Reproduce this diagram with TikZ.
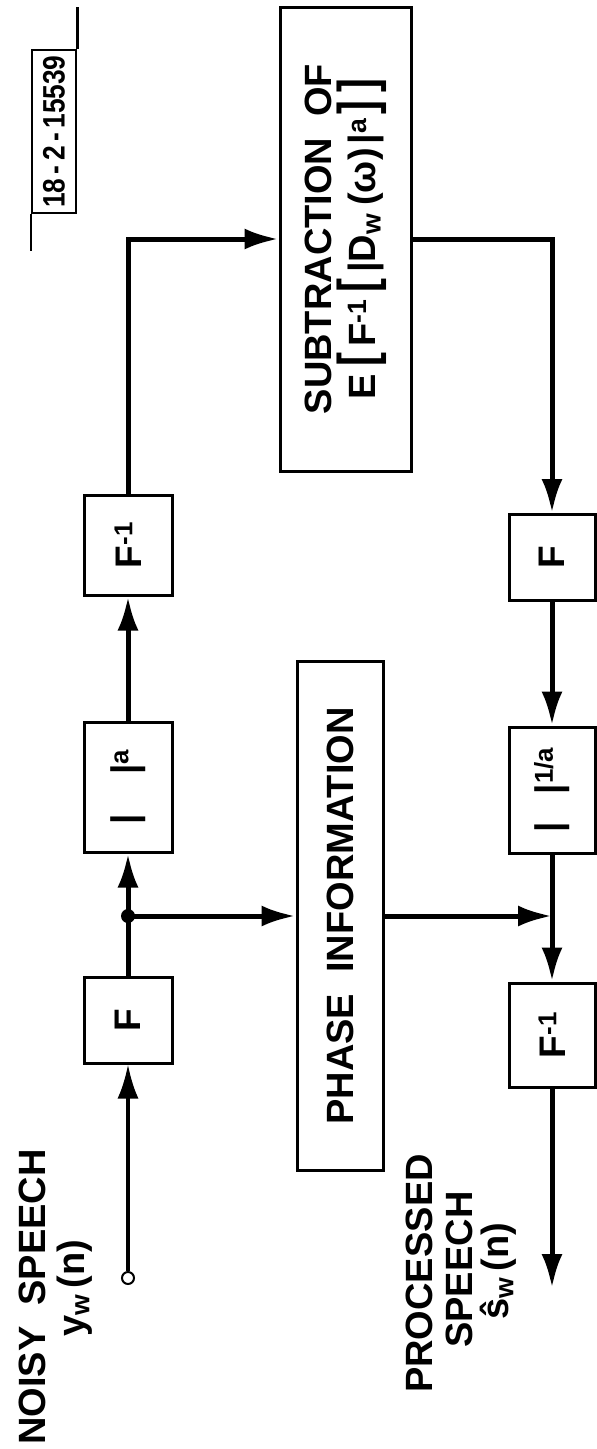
\documentclass[tikz,border=0pt]{standalone}
\usepackage{fontspec}
\setmainfont{Liberation Sans}
\usepackage{graphicx}
\usetikzlibrary{arrows.meta}
\usetikzlibrary{positioning,calc}

\newcommand{\labfont}{\fontsize{38}{46}\selectfont\bfseries}
\newcommand{\boxfont}{\fontsize{37}{40}\selectfont\bfseries}
\newcommand{\tagfont}{\fontsize{31}{34}\selectfont\bfseries}
\newcommand{\brk}[1]{\scalebox{1.1}[1.4]{#1}}

\tikzset{
  blk/.style={draw, line width=3pt, rotate=90, inner sep=0pt, font=\boxfont},
  wire/.style={line width=5pt},
  sig/.style={wire, -{Latex[length=34pt,width=21pt]}},
  lbl/.style={rotate=90, inner sep=0pt, font=\labfont, anchor=base west},
}

\begin{document}
\begin{tikzpicture}[x=1pt, y=-1pt]
    \useasboundingbox (0,0) rectangle (597,1449);

    % Input branch
    \node[circle, draw, line width=2pt, minimum size=12pt, inner sep=0pt] (src) at (128,1278) {};
    \node[blk, minimum width=86pt, minimum height=88pt] (fL) at (128,1020) {F};
    \node[blk, minimum width=130pt, minimum height=88pt] (absa) at (128,787) {|\hspace{40pt}|\textsuperscript{a}};
    \node[blk, minimum width=100pt, minimum height=88pt] (finvL) at (128,545) {F\textsuperscript{-1}};

    % Spectral subtraction
    \node[blk, minimum width=464pt, minimum height=131pt, align=center, font=\labfont] (sub) at (345.5,239)
        {SUBTRACTION\ \ OF\\[-2pt]
         E\hspace{8pt}\brk{[}\hspace{6pt}F\textsuperscript{-1}\hspace{6pt}\brk{[}\hspace{6pt}|D\textsubscript{w}\hspace{8pt}(ω)\hspace{4pt}|\textsuperscript{a}\hspace{4pt}\brk{]}\hspace{8pt}\brk{]}};

    % Phase path
    \node[blk, minimum width=509pt, minimum height=86pt, font=\labfont] (phase) at (340,916) {PHASE\ \ INFORMATION};

    % Output branch
    \node[blk, minimum width=86pt, minimum height=86pt] (fR) at (552,557.5) {F};
    \node[blk, minimum width=126pt, minimum height=86pt] (absinv) at (552,790) {|\hspace{28pt}|\textsuperscript{1/a}};
    \node[blk, minimum width=104pt, minimum height=86pt] (finvR) at (552,1035) {F\textsuperscript{-1}};

    \coordinate (j1) at (128,916);
    \coordinate (j2) at (552,916);
    \coordinate (dst) at (552,1288);

    % Connections
    \draw[sig, line width=3.5pt] (src) -- (fL);
    \draw[wire] (fL) -- (j1);
    \draw[sig] (j1) -- (absa);
    \draw[sig] (absa) -- (finvL);
    \draw[sig] (finvL) |- (sub);
    \draw[sig] (sub) -| (fR);
    \draw[sig] (fR) -- (absinv);
    \draw[wire] (absinv) -- (j2);
    \draw[sig] (j2) -- (finvR);
    \draw[sig] (finvR) -- (dst);
    \draw[sig] (j1) -- (phase);
    \draw[sig] (phase) -- (j2);
    \fill (j1) circle (7pt);

    % Labels
    \node[lbl] (noisy) at (45,1445) {NOISY\ \ SPEECH};
    \node[lbl] (yw) at (84,1337) {y\textsubscript{w}\,(n)};
    \node[lbl] (proc) at (432,1393) {PROCESSED};
    \node[lbl] (speech) at (472,1348) {SPEECH};
    \node[lbl] (shat) at (508,1320) {ŝ\textsubscript{w}\,(n)};

    % Figure tag
    \node[draw, line width=2.5pt, rotate=90, minimum width=163pt, minimum height=44pt, inner sep=0pt, font=\tagfont] (tag) at (54,131.5) {\scalebox{0.85}[1]{18\,-\,2\,-\,15539}};
    \draw[line width=2.5pt] (tag.south east) -- ++(0,-42);
    \draw[line width=2.5pt] (tag.north west) -- ++(0,37);
\end{tikzpicture}
\end{document}
